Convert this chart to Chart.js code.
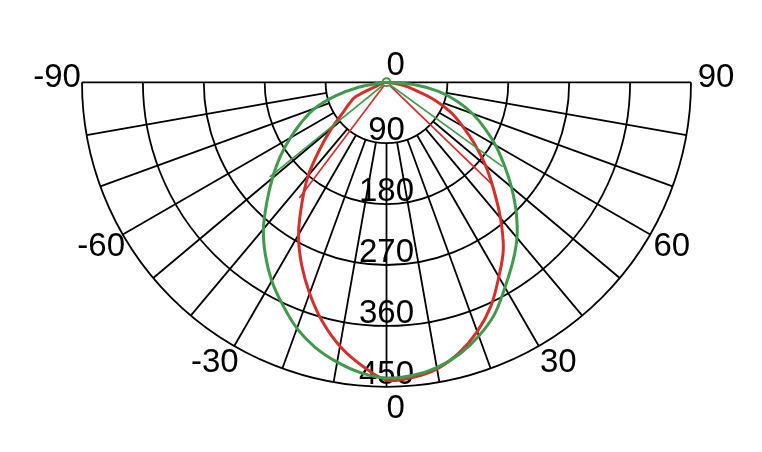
<!DOCTYPE html>
<html>
<head>
<meta charset="utf-8">
<script src="https://cdn.jsdelivr.net/npm/chart.js@4.4.1/dist/chart.umd.min.js"></script>
<style>
  html, body { margin: 0; padding: 0; background: #fff; }
  #chart { display: block; }
</style>
</head>
<body>
<canvas id="chart" width="762" height="452"></canvas>
<script>
// gamma angles (deg, 0 = straight down) and intensities
const angles = [-90, -85, -80, -75, -70, -65, -60, -55, -50, -45, -40, -35, -30, -25, -20, -15, -10, -5,
  0, 5, 10, 15, 20, 25, 30, 35, 40, 45, 50, 55, 60, 65, 70, 75, 80, 85, 90];
const redValues = [0, 1, 3, 5, 14, 50, 64, 79, 106, 139, 180, 218, 260, 297, 332, 366, 396, 420,
  440, 438, 430, 414, 392, 365, 332, 301, 262, 224, 191, 159, 130, 105, 75, 43, 25, 8, 0];
const greenValues = [0, 8, 42, 78, 113, 138, 164, 192, 220, 250, 283, 312, 339, 363, 387, 406, 420, 431,
  437, 435, 428, 416, 399, 378, 350, 325, 300, 271, 241, 212, 186, 160, 135, 108, 78, 42, 0];

// the thin straight strokes from the centre
const redSpokeAngles = [-37, 0, 46];
const redSpokeValues = [214, 0, 218];
const greenSpokeAngles = [-51, 0, 54];
const greenSpokeValues = [222, 0, 212];

const radialTicks = [90, 180, 270, 360, 450];
const gridAngles = [-80, -70, -60, -50, -40, -30, -20, -10, 0, 10, 20, 30, 40, 50, 60, 70, 80];
const angleTicks = [-90, -60, -30, 0, 30, 60, 90];

const RED = "#d3302b";
const GREEN = "#3f9a4b";
const FONT = '33px "Liberation Sans", Arial, sans-serif';

const toPoints = (angs, vals) => angs.map((a, i) => {
    const t = a * Math.PI / 180;
    return { x: vals[i] * Math.sin(t), y: -vals[i] * Math.cos(t) };
});

// pixel layout: centre at (386.5, 82.3), outer ring 304.5px
const K = 304.5 / 450;
const CX = 386.5, CY = 82.3;

const polarGrid = {
    id: "polarGrid",
    beforeDatasetsDraw(chart) {
        const { ctx, scales: { x, y } } = chart;
        const cx = x.getPixelForValue(0);
        const cy = y.getPixelForValue(0);
        const rp = (v) => x.getPixelForValue(v) - cx;
        const rMin = rp(radialTicks[0]);
        const rMax = rp(radialTicks[radialTicks.length - 1]);

        ctx.save();
        ctx.strokeStyle = "#000";
        ctx.lineWidth = 1.8;

        radialTicks.forEach((v) => {
            ctx.beginPath();
            ctx.arc(cx, cy, rp(v), 0, Math.PI);
            ctx.stroke();
        });

        ctx.beginPath();
        ctx.moveTo(cx - rMax, cy);
        ctx.lineTo(cx + rMax, cy);
        gridAngles.forEach((a) => {
            const t = a * Math.PI / 180;
            ctx.moveTo(cx + rMin * Math.sin(t), cy + rMin * Math.cos(t));
            ctx.lineTo(cx + rMax * Math.sin(t), cy + rMax * Math.cos(t));
        });
        ctx.stroke();

        ctx.fillStyle = "#000";
        ctx.font = FONT;

        // intensity labels sit on their rings along the 0 line
        ctx.textAlign = "center";
        ctx.textBaseline = "alphabetic";
        radialTicks.forEach((v) => {
            ctx.fillText(String(v), cx, cy + rp(v) - 3);
        });

        // angle labels
        ctx.textBaseline = "middle";
        angleTicks.forEach((a) => {
            if (a === 0) {
                ctx.textAlign = "left";
                ctx.fillText("0", cx, cy - 16);
                ctx.fillText("0", cx, cy + rMax + 22);
                return;
            }
            const t = a * Math.PI / 180;
            let lx = cx + (rMax + 25) * Math.sin(t);
            let ly = cy + (rMax + 25) * Math.cos(t);
            if (Math.abs(a) === 90) ly -= 4;
            if (Math.abs(a) === 30) { lx += Math.sign(a) * 7; ly -= 5; }
            ctx.textAlign = "center";
            ctx.fillText(String(a), lx, ly);
        });
        ctx.restore();
    }
};

new Chart(document.getElementById("chart"), {
    type: "scatter",
    data: {
        datasets: [
            {
                label: "green",
                data: toPoints(angles, greenValues),
                showLine: true,
                borderColor: GREEN,
                borderWidth: 3,
                pointRadius: 0,
                tension: 0.35
            },
            {
                label: "green spokes",
                data: toPoints(greenSpokeAngles, greenSpokeValues),
                showLine: true,
                borderColor: GREEN,
                borderWidth: 1.7,
                pointRadius: [0, 4, 0],
                pointBackgroundColor: "#fff",
                pointBorderColor: GREEN,
                pointBorderWidth: 2
            },
            {
                label: "red",
                data: toPoints(angles, redValues),
                showLine: true,
                borderColor: RED,
                borderWidth: 3,
                pointRadius: 0,
                tension: 0.35
            },
            {
                label: "red spokes",
                data: toPoints(redSpokeAngles, redSpokeValues),
                showLine: true,
                borderColor: RED,
                borderWidth: 1.7,
                pointRadius: 0
            }
        ]
    },
    options: {
        responsive: false,
        animation: false,
        layout: { padding: 0 },
        scales: {
            x: { type: "linear", display: false, min: -CX / K, max: (762 - CX) / K },
            y: { type: "linear", display: false, min: -(452 - CY) / K, max: CY / K }
        },
        plugins: {
            legend: { display: false },
            tooltip: { enabled: false }
        }
    },
    plugins: [polarGrid]
});
</script>
</body>
</html>
